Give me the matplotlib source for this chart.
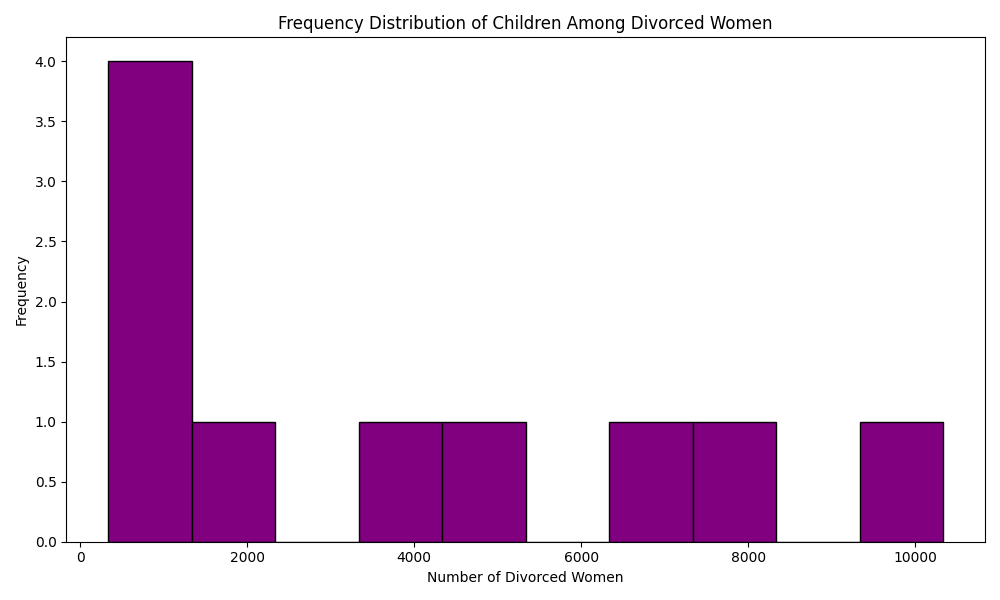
import matplotlib
matplotlib.use("Agg")
from matplotlib import pyplot as plt

# number of divorced women per group
divorced_women = [335, 780, 1010, 1220, 1850, 3900, 4800, 6900, 7800, 10335]

fig, ax = plt.subplots(figsize=(10, 6), dpi=100)
ax.hist(divorced_women, bins=10, color='purple', edgecolor='black')
ax.set_title('Frequency Distribution of Children Among Divorced Women')
ax.set_xlabel('Number of Divorced Women')
ax.set_ylabel('Frequency')
plt.tight_layout()
plt.savefig('out.png')
